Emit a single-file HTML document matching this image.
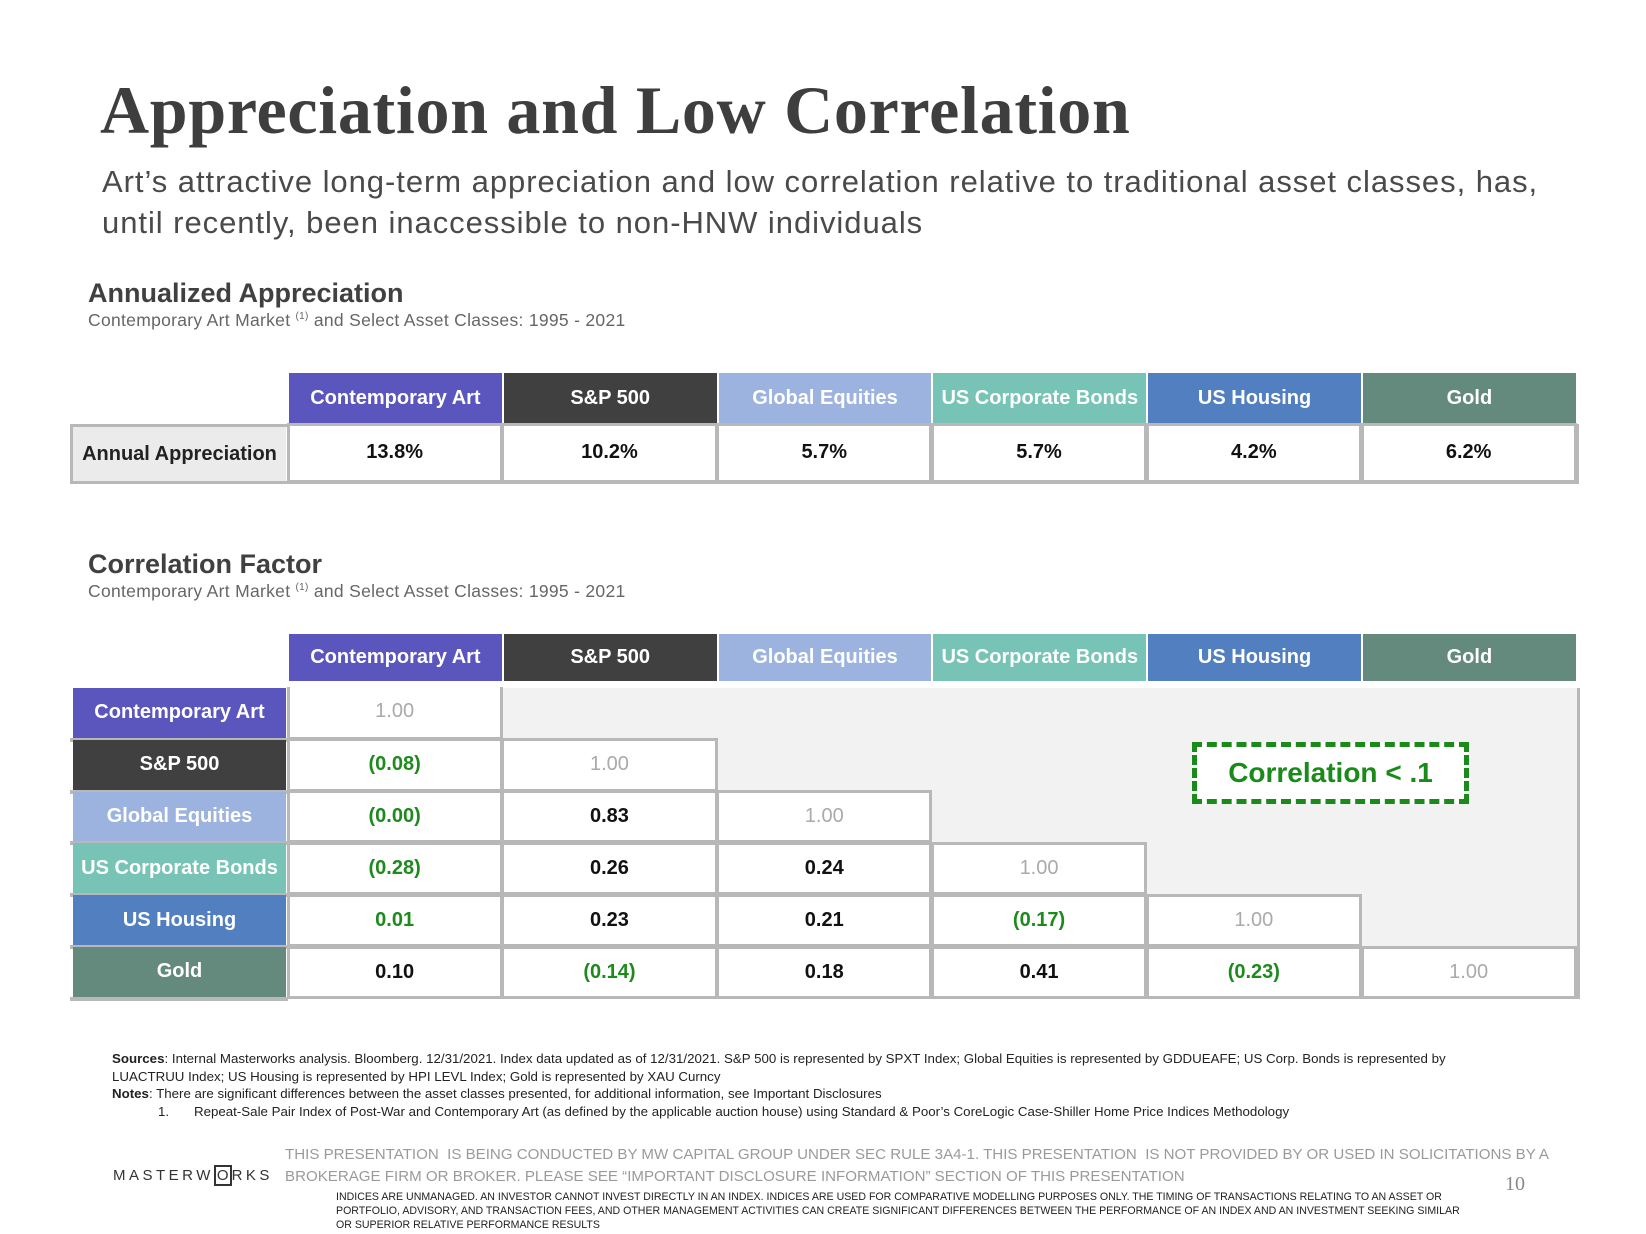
<!DOCTYPE html>
<html><head><meta charset="utf-8"><style>
*{margin:0;padding:0;box-sizing:border-box}
body{width:1646px;height:1234px;background:#fff;position:relative;overflow:hidden;font-family:"Liberation Sans",Arial,sans-serif}
.a{position:absolute;white-space:nowrap}
.c{position:absolute;display:flex;align-items:center;justify-content:center;font-weight:bold;font-size:20px;white-space:nowrap}
.h{color:#fff}
.w{background:#fff;border:3px solid #b8b8b8;margin:-1.5px}
.g{color:#1e8a1e}.k{color:#111}.l{color:#aaa;font-weight:normal}
</style></head><body>
<div class="a" style="left:100px;top:70px;font-family:'Liberation Serif',serif;font-weight:bold;font-size:68px;letter-spacing:0.7px;color:#3e3e3e;line-height:80px">Appreciation and Low Correlation</div>
<div class="a" style="left:102px;top:161px;font-size:31px;color:#4a4a4a;line-height:41px;letter-spacing:0.95px">Art’s attractive long-term appreciation and low correlation relative to traditional asset classes, has,<br>until recently, been inaccessible to non-HNW individuals</div>

<div class="a" style="left:88px;top:278px;font-size:27px;font-weight:bold;color:#404040">Annualized Appreciation</div>
<div class="a" style="left:88px;top:310px;font-size:17.5px;letter-spacing:0.3px;color:#666">Contemporary Art Market <sup style="font-size:10px">(1)</sup> and Select Asset Classes: 1995 - 2021</div>
<div class="a" style="left:88px;top:549px;font-size:27px;font-weight:bold;color:#404040">Correlation Factor</div>
<div class="a" style="left:88px;top:581px;font-size:17.5px;letter-spacing:0.3px;color:#666">Contemporary Art Market <sup style="font-size:10px">(1)</sup> and Select Asset Classes: 1995 - 2021</div>

<div id="t"></div>
<div class="c" style="left:1192px;top:742px;width:277px;height:62px;border:5px dashed #1a8a1a;background:#fff;color:#1a8a1a;font-size:28px">Correlation &lt; .1</div>

<div class="a" style="left:112px;top:1050px;font-size:13.3px;line-height:17.7px;color:#222">
<b>Sources</b>: Internal Masterworks analysis. Bloomberg. 12/31/2021. Index data updated as of 12/31/2021. S&amp;P 500 is represented by SPXT Index; Global Equities is represented by GDDUEAFE; US Corp. Bonds is represented by<br>LUACTRUU Index; US Housing is represented by HPI LEVL Index; Gold is represented by XAU Curncy<br><b>Notes</b>: There are significant differences between the asset classes presented, for additional information, see Important Disclosures<br><span style="display:inline-block;width:82px;padding-left:46px">1.</span>Repeat-Sale Pair Index of Post-War and Contemporary Art (as defined by the applicable auction house) using Standard &amp; Poor’s CoreLogic Case-Shiller Home Price Indices Methodology</div>
<div class="a" style="left:113px;top:1167px;font-size:15px;letter-spacing:3.5px;color:#333">MASTERW<span style="border:2px solid #333;padding:0 1px;letter-spacing:0">O</span>RKS</div>
<div class="a" style="left:285px;top:1144px;font-size:15.1px;line-height:22px;color:#9a9a9a">THIS PRESENTATION&nbsp; IS BEING CONDUCTED BY MW CAPITAL GROUP UNDER SEC RULE 3A4-1. THIS PRESENTATION&nbsp; IS NOT PROVIDED BY OR USED IN SOLICITATIONS BY A<br>BROKERAGE FIRM OR BROKER. PLEASE SEE “IMPORTANT DISCLOSURE INFORMATION” SECTION OF THIS PRESENTATION</div>
<div class="a" style="left:336px;top:1190px;font-size:10.6px;line-height:14px;color:#222">INDICES ARE UNMANAGED. AN INVESTOR CANNOT INVEST DIRECTLY IN AN INDEX. INDICES ARE USED FOR COMPARATIVE MODELLING PURPOSES ONLY. THE TIMING OF TRANSACTIONS RELATING TO AN ASSET OR<br>PORTFOLIO, ADVISORY, AND TRANSACTION FEES, AND OTHER MANAGEMENT ACTIVITIES CAN CREATE SIGNIFICANT DIFFERENCES BETWEEN THE PERFORMANCE OF AN INDEX AND AN INVESTMENT SEEKING SIMILAR<br>OR SUPERIOR RELATIVE PERFORMANCE RESULTS</div>
<div class="a" style="left:1505px;top:1173px;font-family:'Liberation Serif',serif;font-size:20px;color:#888">10</div>

<script>
var t=document.getElementById('t'),h='';
var X0=288,CW=214.8,names=['Contemporary Art','S&amp;P 500','Global Equities','US Corporate Bonds','US Housing','Gold'];
var cols=['#5b55be','#404040','#9bb3de','#77c4b6','#527fbf','#638a7d'];
function d(x,y,w,hh,cls,st,txt){h+='<div class="c '+cls+'" style="left:'+x+'px;top:'+y+'px;width:'+w+'px;height:'+hh+'px;'+st+'">'+txt+'</div>';}
for(var i=0;i<6;i++){d(X0+i*CW+1,373,CW-2,51,'h','background:'+cols[i],names[i]);d(X0+i*CW+1,634,CW-2,47,'h','background:'+cols[i],names[i]);}
h+='<div style="position:absolute;left:70px;top:424px;width:'+(X0+6*CW-70+2)+'px;height:60px;border:3px solid #b8b8b8;background:#fff"></div>';
d(73,427,213,54,'k','background:#ebebeb;color:#222','Annual Appreciation');
var v=['13.8%','10.2%','5.7%','5.7%','4.2%','6.2%'];
for(i=0;i<6;i++){d(X0+i*CW,424,CW+1.5,60,'w k','',v[i]);}
var Y0=688,RH=51.8;
h+='<div style="position:absolute;left:'+(X0+CW)+'px;top:'+Y0+'px;width:'+(5*CW+3)+'px;height:'+(6*RH)+'px;background:#f2f2f2;border-right:3px solid #b8b8b8"></div>';
var M=[['1.00'],['(0.08)','1.00'],['(0.00)','0.83','1.00'],['(0.28)','0.26','0.24','1.00'],['0.01','0.23','0.21','(0.17)','1.00'],['0.10','(0.14)','0.18','0.41','(0.23)','1.00']];
for(var r=0;r<6;r++){var y=Y0+r*RH;
 h+='<div style="position:absolute;left:70px;top:'+(y+RH-2)+'px;width:218px;height:4px;background:#b8b8b8"></div>';
 d(73,y,213,RH-2,'h','background:'+cols[r],names[r]);
 for(var c=0;c<=r;c++){var s=M[r][c];var cl=s=='1.00'?'l':(s.charAt(0)=='('||parseFloat(s)<0.1?'g':'k');
  d(X0+c*CW,y,CW+1.5,RH+1.5,'w '+cl,r==0?'border-top:0':'',s);}
}
t.innerHTML=h;
</script>
</body></html>
